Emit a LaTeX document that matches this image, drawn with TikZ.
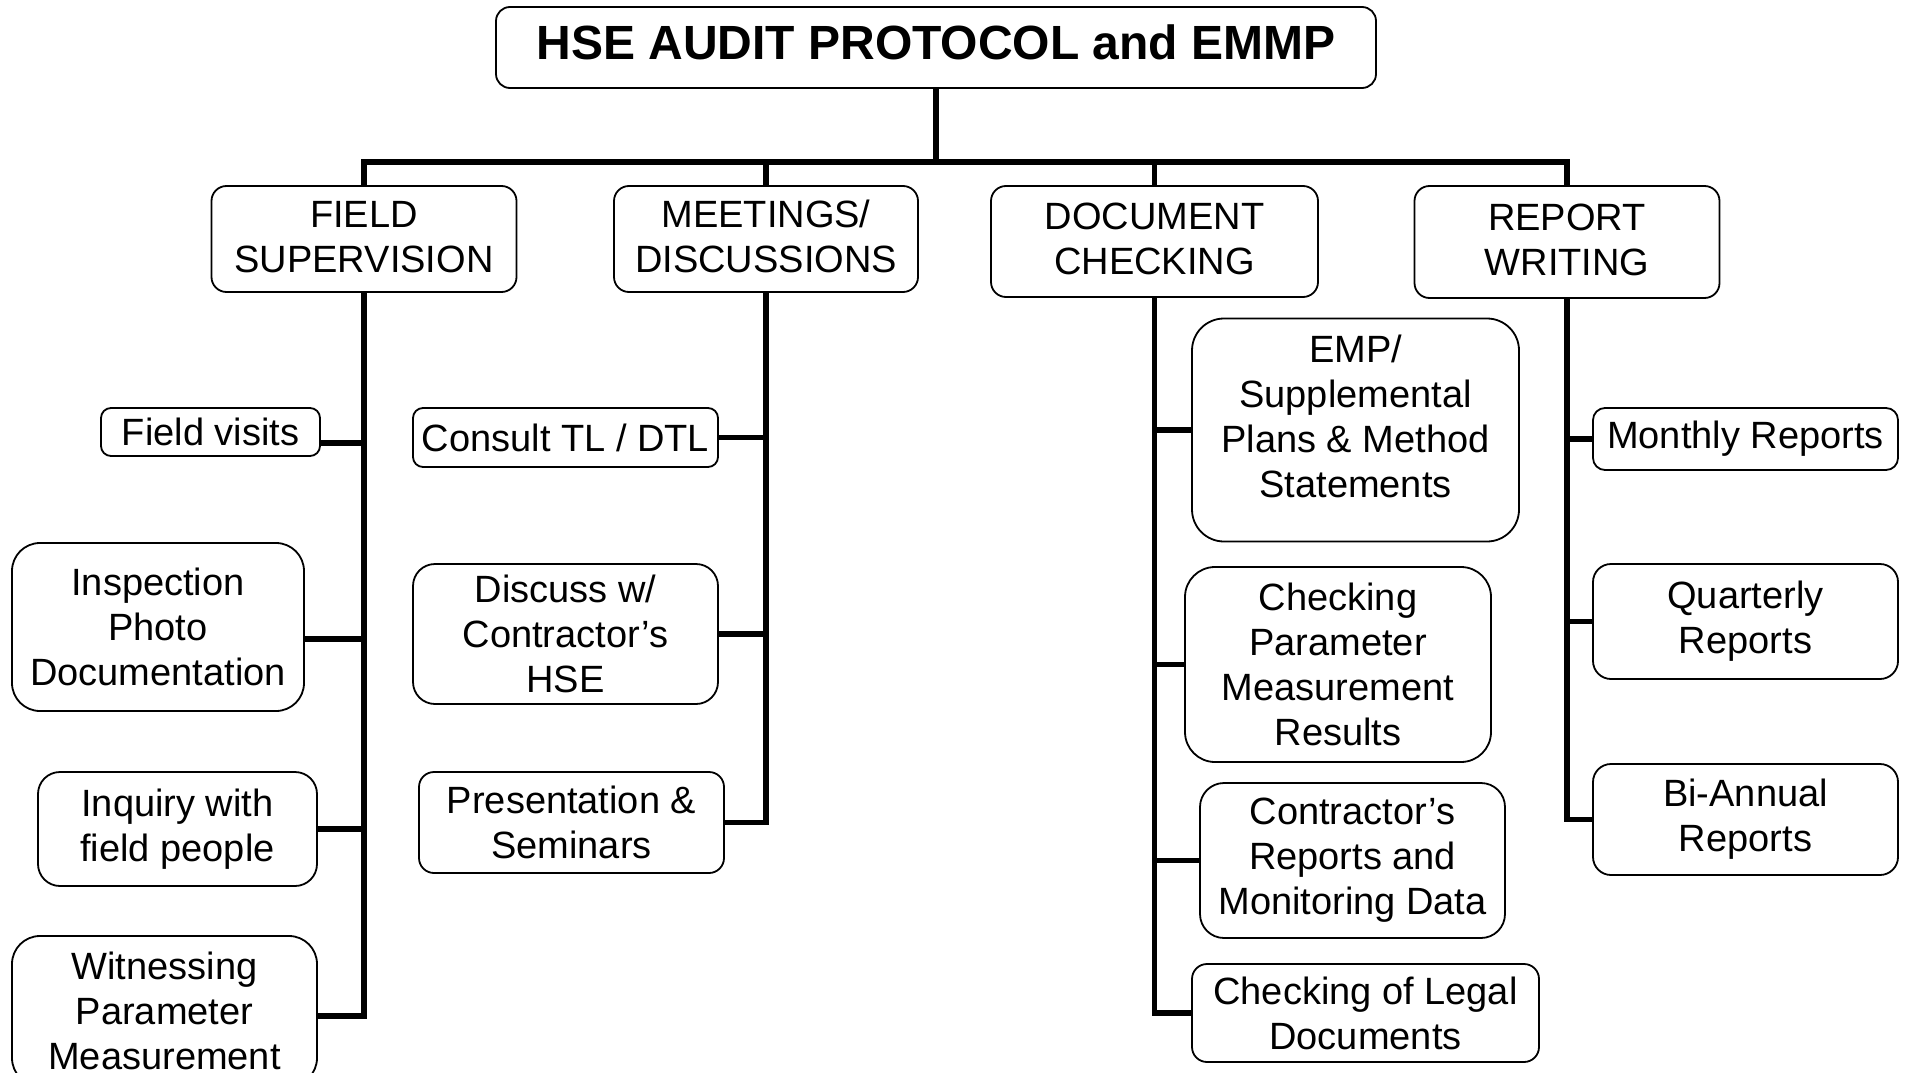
\documentclass[tikz,border=0pt]{standalone}
\usepackage{fontspec}
\setmainfont{Liberation Sans}
\usepackage{tikz}
\usetikzlibrary{positioning}

\begin{document}
\begin{tikzpicture}[%
    x=1pt, y=-1pt,
    box/.style={draw, line width=1.8pt, rounded corners=15pt, align=center,
      inner sep=2pt, font=\fontsize{38}{45}\selectfont},
    bigbox/.style={box, rounded corners=28pt},
    catbox/.style={box, text depth=5pt},
    head/.style={box, rounded corners=14pt, text depth=10pt, font=\bfseries\fontsize{48}{56}\selectfont},
    conn/.style={line width=5.5pt, line join=miter}
  ]
    \useasboundingbox (0,0) rectangle (1906,1073);

    \node[head, minimum width=880pt, minimum height=81pt] (top) at (936,47.5) {HSE AUDIT PROTOCOL and EMMP};

    \coordinate (bus) at (936,162);

    \node[catbox, minimum width=305pt, minimum height=106pt] (fs) at (364,239) {FIELD\\SUPERVISION};
    \node[catbox, minimum width=304pt, minimum height=106pt] (md) at (766,239) {MEETINGS/\\DISCUSSIONS};
    \node[catbox, minimum width=327pt, minimum height=111pt] (dc) at (1154.5,241.5) {DOCUMENT\\CHECKING};
    \node[catbox, minimum width=305pt, minimum height=112pt] (rw) at (1567,242) {REPORT\\WRITING};

    % field supervision
    \node[box, rounded corners=10pt, minimum width=219pt, minimum height=48pt] (fv) at (210.5,432) {Field visits};
    \node[bigbox, minimum width=292pt, minimum height=168pt] (ip) at (158,627) {Inspection\\Photo\\Documentation};
    \node[bigbox, rounded corners=22pt, minimum width=279pt, minimum height=114pt] (iq) at (177.5,829) {Inquiry with\\field people};
    \node[bigbox, minimum width=305pt, minimum height=150pt] (wp) at (164.5,1011) {Witnessing\\Parameter\\Measurement};

    % meetings
    \node[box, rounded corners=10pt, minimum width=305pt, minimum height=59pt] (ct) at (565.5,437.5) {Consult TL / DTL};
    \node[bigbox, rounded corners=22pt, minimum width=305pt, minimum height=140pt] (dw) at (565.5,634) {Discuss w/\\Contractor’s\\HSE};
    \node[box, minimum width=305pt, minimum height=101pt] (ps) at (571.5,822.5) {Presentation \&\\Seminars};

    % document checking
    \node[bigbox, rounded corners=32pt, text depth=28pt, minimum width=327pt, minimum height=223pt] (emp) at (1355.5,430) {EMP/\\Supplemental\\Plans \& Method\\Statements};
    \node[bigbox, rounded corners=30pt, minimum width=306pt, minimum height=195pt] (cp) at (1338,664.5) {Checking\\Parameter\\Measurement\\Results};
    \node[bigbox, rounded corners=24pt, minimum width=305pt, minimum height=155pt] (cr) at (1352.5,860.5) {Contractor’s\\Reports and\\Monitoring Data};
    \node[box, minimum width=347pt, minimum height=98pt] (cl) at (1365.5,1013) {Checking of Legal\\Documents};

    % report writing
    \node[box, rounded corners=12pt, minimum width=305pt, minimum height=62pt] (mr) at (1745.5,439) {Monthly Reports};
    \node[box, rounded corners=18pt, minimum width=305pt, minimum height=115pt] (qr) at (1745.5,621.5) {Quarterly\\Reports};
    \node[box, rounded corners=18pt, minimum width=305pt, minimum height=111pt] (br) at (1745.5,819.5) {Bi-Annual\\Reports};

    \draw[conn] (top.south) -- (top.south |- bus);
    \draw[conn] (fs.north) -- (fs.north |- bus) -- (rw.north |- bus) -- (rw.north);
    \draw[conn] (md.north) -- (md.north |- bus);
    \draw[conn] (dc.north) -- (dc.north |- bus);

    \draw[conn] (fs.south) |- ([yshift=-11pt]fv.east)
          (fs.south) |- ([yshift=-12pt]ip.east)
          (fs.south) |- (iq.east)
          (fs.south) |- ([yshift=-5pt]wp.east);
    \draw[conn] (md.south) |- (ct.east)
          (md.south) |- (dw.east)
          (md.south) |- (ps.east);
    \draw[conn] (dc.south) |- (emp.west)
          (dc.south) |- (cp.west)
          (dc.south) |- (cr.west)
          (dc.south) |- (cl.west);
    \draw[conn] (rw.south) |- (mr.west)
          (rw.south) |- (qr.west)
          (rw.south) |- (br.west);
  \end{tikzpicture}
\end{document}
